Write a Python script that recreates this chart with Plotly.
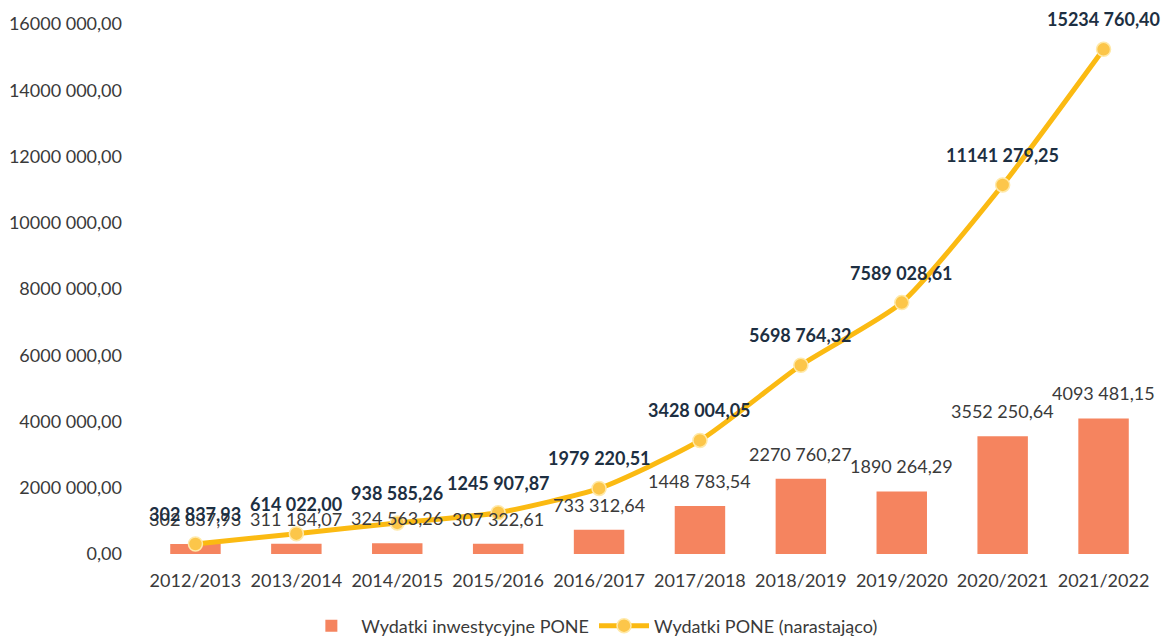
import plotly.graph_objects as go

categories = ["2012/2013", "2013/2014", "2014/2015", "2015/2016", "2016/2017",
              "2017/2018", "2018/2019", "2019/2020", "2020/2021", "2021/2022"]
investment = [302837.93, 311184.07, 324563.26, 307322.61, 733312.64,
              1448783.54, 2270760.27, 1890264.29, 3552250.64, 4093481.15]
cumulative = [302837.93, 614022.00, 938585.26, 1245907.87, 1979220.51,
              3428004.05, 5698764.32, 7589028.61, 11141279.25, 15234760.40]
y_ticks = [0, 2000000, 4000000, 6000000, 8000000, 10000000, 12000000, 14000000, 16000000]


def fmt(v):
    cents = int(round(v * 100))
    ip, dp = divmod(cents, 100)
    hi, lo = divmod(ip, 1000)
    if hi:
        return f"{hi} {lo:03d},{dp:02d}"
    return f"{lo},{dp:02d}"


FONT = "Lato"
FS = 18
BAR_COLOR = "#F5845F"
LINE_COLOR = "#FBBA12"

fig = go.Figure()
fig.add_trace(go.Bar(
    x=categories, y=investment, name="Wydatki inwestycyjne PONE",
    marker=dict(color=BAR_COLOR, line=dict(width=0)),
))
fig.add_trace(go.Scatter(
    x=categories, y=cumulative, name="Wydatki PONE (narastająco)",
    mode="lines+markers",
    line=dict(color=LINE_COLOR, width=5, shape="spline", smoothing=0.6),
    marker=dict(size=14, color="#FCC64A", line=dict(color="#FFE9A8", width=1.5)),
    cliponaxis=False,
))
for c, v in zip(categories, investment):
    fig.add_annotation(x=c, y=v, text=fmt(v), showarrow=False, yanchor="middle",
                       yshift=25, borderpad=0,
                       font=dict(family=FONT, size=FS, color="#3a3a3a"))
for c, v in zip(categories, cumulative):
    fig.add_annotation(x=c, y=v, text=f"<b>{fmt(v)}</b>", showarrow=False, yanchor="middle",
                       yshift=30, borderpad=0,
                       font=dict(family=FONT, size=FS, color="#1d2f42"))

fig.update_layout(
    width=1172, height=638,
    margin=dict(l=145, r=18, t=24, b=84, autoexpand=False),
    paper_bgcolor="white", plot_bgcolor="white",
    font=dict(family=FONT, size=FS, color="#3a3a3a"),
    bargap=0.5,
    showlegend=True,
    legend=dict(orientation="h", x=0.505, xanchor="center", xref="container",
                y=(638 - 626) / 638, yref="container", yanchor="middle",
                font=dict(family=FONT, size=FS, color="#3a3a3a"),
                itemwidth=50, tracegroupgap=0),
    xaxis=dict(range=[-0.5, len(categories) - 0.5], showgrid=False, showline=False,
               ticks="", tickfont=dict(size=FS), ticklabelstandoff=14, automargin=False),
    yaxis=dict(range=[0, 16000000], tickvals=y_ticks, ticktext=[fmt(v) for v in y_ticks],
               showgrid=False, zeroline=False, showline=False, ticks="",
               ticklabelstandoff=22, tickfont=dict(size=FS), automargin=False),
)
fig.write_html("out.html", config={"displayModeBar": False},
               post_script="document.body.style.margin='0';document.body.style.overflow='hidden';")
